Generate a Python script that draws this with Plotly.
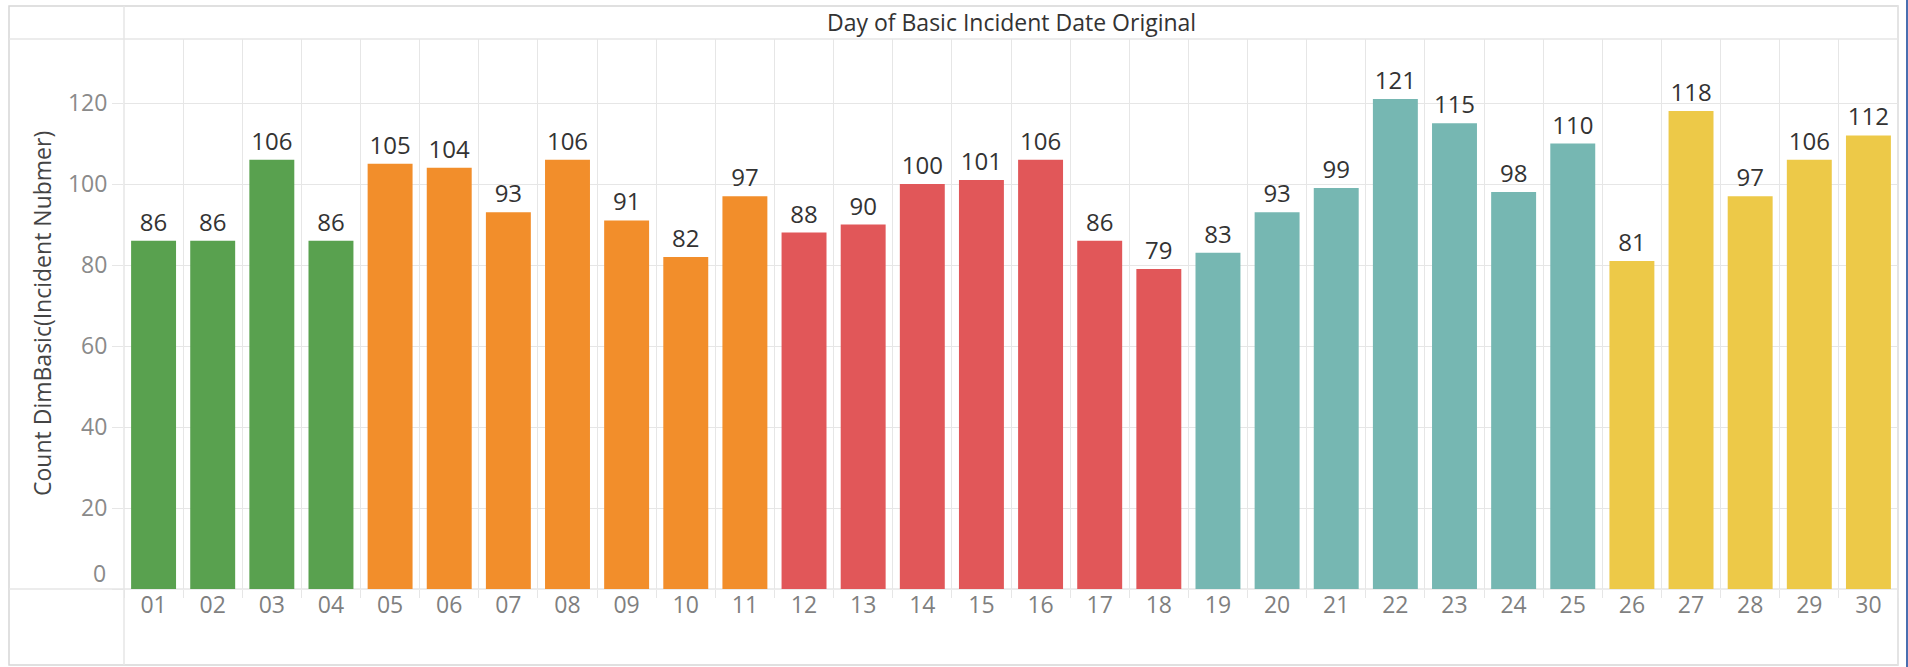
import plotly.graph_objects as go

# ---- data ----
days = [f"{d:02d}" for d in range(1, 31)]
counts = [86, 86, 106, 86, 105, 104, 93, 106, 91, 82, 97, 88, 90, 100, 101,
          106, 86, 79, 83, 93, 99, 121, 115, 98, 110, 81, 118, 97, 106, 112]
groups = ["A"] * 4 + ["B"] * 7 + ["C"] * 7 + ["D"] * 7 + ["E"] * 5
group_colors = {"A": "#59A14F", "B": "#F28E2B", "C": "#E15759", "D": "#76B7B2", "E": "#EDC948"}
y_ticks = [0, 20, 40, 60, 80, 100, 120]
y_tick_labels = [str(v) for v in y_ticks]
chart_title = "Day of Basic Incident Date Original"
y_title = "Count DimBasic(Incident Nubmer)"

# ---- layout geometry (pixels) ----
W, H = 1908, 667
L, R, T, B = 124, 1898, 39, 589
pw, ph = R - L, B - T
def px(x):
    return (x - L) / pw
def py(y):
    return (B - y) / ph

FONT = "Open Sans"
GRID = "#e6e6e6"
BORDER = "#d6d6d6"

fig = go.Figure(go.Bar(
    x=days, y=counts,
    marker=dict(color=[group_colors[g] for g in groups], line=dict(width=0)),
    text=[str(v) for v in counts], textposition="outside",
    textfont=dict(family=FONT, size=24, color="#333333"),
    cliponaxis=False, hoverinfo="skip",
))

ymax = ph / 4.05

fig.update_layout(
    width=W, height=H,
    margin=dict(l=L, r=W - R, t=T, b=H - B, autoexpand=False),
    paper_bgcolor="white", plot_bgcolor="white",
    bargap=0.24, showlegend=False,
    font=dict(family=FONT),
    xaxis=dict(
        type="category", range=[-0.5, 29.5], tickson="boundaries",
        showgrid=True, gridcolor=GRID, gridwidth=1,
        ticks="outside", ticklen=8, tickcolor=GRID,
        tickfont=dict(family=FONT, size=23, color="#7f7f7f"),
        showline=False, zeroline=False, fixedrange=True,
    ),
    yaxis=dict(
        range=[0, ymax], tickvals=y_ticks,
        ticktext=["" if v == 0 else s for v, s in zip(y_ticks, y_tick_labels)],
        showgrid=True, gridcolor=GRID, gridwidth=1,
        ticks="outside", ticklen=11, tickcolor=GRID,
        tickfont=dict(family=FONT, size=23, color="#8a8a8a"),
        showline=False, zeroline=False, fixedrange=True,
    ),
)

# 0 tick label raised above the baseline, as in the reference
fig.add_annotation(x=px(108), y=0, xref="paper", yref="y", text=y_tick_labels[0],
                   showarrow=False, xanchor="right", yanchor="middle", yshift=16,
                   font=dict(family=FONT, size=23, color="#8a8a8a"))

# header title
fig.add_annotation(x=0.5, y=py(22), xref="paper", yref="paper", text=chart_title,
                   showarrow=False, xanchor="center", yanchor="middle",
                   font=dict(family=FONT, size=23, color="#333333"))

# y axis title
fig.add_annotation(x=px(42), y=0.5, xref="paper", yref="paper", text=y_title,
                   showarrow=False, textangle=-90, xanchor="center", yanchor="middle",
                   font=dict(family=FONT, size=23, color="#444444"))

# frame lines
shapes = [
    dict(type="rect", x0=px(9), x1=px(1898), y0=py(6), y1=py(665), line=dict(color=BORDER, width=1.5)),
    dict(type="line", x0=px(9), x1=px(1898), y0=py(39), y1=py(39), line=dict(color=GRID, width=1.5)),
    dict(type="line", x0=px(124), x1=px(124), y0=py(6), y1=py(665), line=dict(color=GRID, width=1.5)),
    dict(type="line", x0=px(9), x1=px(1898), y0=py(589), y1=py(589), line=dict(color=GRID, width=1.5)),
    dict(type="line", x0=px(1898), x1=px(1898), y0=py(6), y1=py(665), line=dict(color=GRID, width=1.5)),
    dict(type="line", x0=px(1907), x1=px(1907), y0=py(0), y1=py(667), line=dict(color="#4A6FB0", width=2)),
]
for s in shapes:
    s.update(xref="paper", yref="paper", layer="below")
fig.update_layout(shapes=shapes)

fig.write_html("out.html", config={"displayModeBar": False},
               post_script="document.body.style.margin='0px';document.body.style.overflow='hidden';")
